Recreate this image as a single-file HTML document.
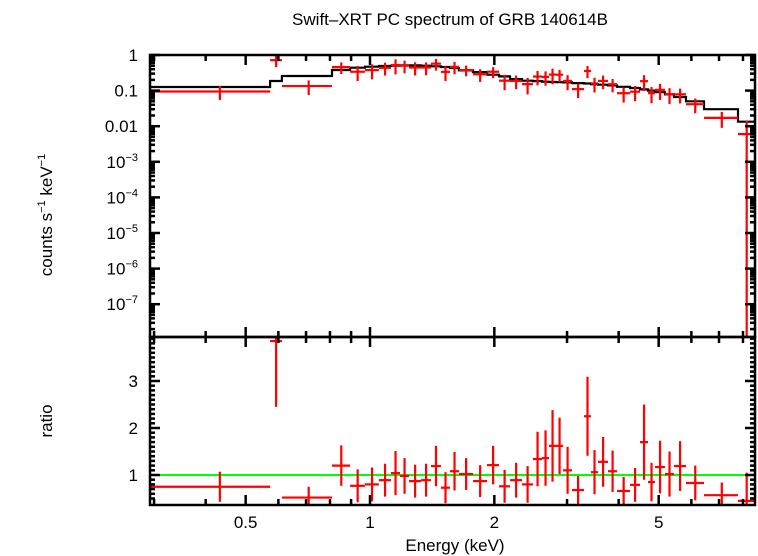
<!DOCTYPE html>
<html><head><meta charset="utf-8"><style>
html,body{margin:0;padding:0;background:#fff}
svg{display:block;font-family:"Liberation Sans",sans-serif}
</style></head><body>
<svg id="chart" width="758" height="556" viewBox="0 0 758 556">
<text x="450" y="25" font-size="17" text-anchor="middle">Swift–XRT PC spectrum of GRB 140614B</text>
<text transform="translate(52,215) rotate(-90)" font-size="17" text-anchor="middle">counts s<tspan font-size="11" dy="-7">−1</tspan><tspan dy="7"> keV</tspan><tspan font-size="11" dy="-7">−1</tspan></text>
<text transform="translate(52,421) rotate(-90)" font-size="17" text-anchor="middle">ratio</text>
<text x="455" y="551" font-size="17" text-anchor="middle">Energy (keV)</text>
<g id="marks"></g>
<g id="axes"></g>
</svg>
<script>
const binEdges=[0.293,0.573,0.612,0.809,0.895,0.972,1.051,1.124,1.182,1.243,1.329,1.405,1.485,1.562,1.642,1.776,1.920,2.053,2.183,2.334,2.481,2.609,2.713,2.821,2.934,3.084,3.297,3.428,3.565,3.770,3.964,4.262,4.506,4.711,4.898,5.179,5.445,5.823,6.439,7.780,8.554];
const modelVals=[0.126,0.186,0.257,0.38,0.44,0.47,0.49,0.5,0.51,0.51,0.5,0.48,0.46,0.43,0.37,0.33,0.28,0.25,0.21,0.19,0.185,0.178,0.174,0.172,0.17,0.162,0.158,0.15,0.146,0.14,0.128,0.118,0.108,0.1,0.09,0.078,0.066,0.05,0.03,0.0134];
const countVals=[0.0945,0.716,0.134,0.456,0.339,0.376,0.436,0.52,0.50,0.444,0.445,0.571,0.336,0.464,0.377,0.287,0.339,0.19,0.187,0.152,0.248,0.242,0.282,0.279,0.187,0.11,0.356,0.159,0.187,0.151,0.0845,0.0932,0.184,0.085,0.105,0.0796,0.0785,0.0415,0.0171,0.0060];
const ratioVals=[0.75,3.85,0.52,1.2,0.77,0.8,0.89,1.04,0.98,0.87,0.89,1.19,0.73,1.08,1.02,0.87,1.21,0.76,0.89,0.8,1.34,1.36,1.62,1.62,1.1,0.68,2.25,1.06,1.28,1.08,0.66,0.79,1.7,0.85,1.17,1.02,1.19,0.83,0.57,0.45];
const ratioErr=[0.32,1.4,0.23,0.43,0.35,0.36,0.35,0.47,0.38,0.35,0.35,0.43,0.33,0.41,0.34,0.34,0.41,0.35,0.37,0.39,0.58,0.59,0.76,0.6,0.5,0.3,0.84,0.47,0.53,0.44,0.3,0.36,0.8,0.41,0.56,0.48,0.53,0.37,0.27,0.6];
const xTickMajor=[0.5,1,2,5];
const xTickLabels=["0.5","1","2","5"];
const yTopDecades=[0,-1,-2,-3,-4,-5,-6,-7];
const yTopLabels=["1","0.1","0.01","10|−3","10|−4","10|−5","10|−6","10|−7"];
const ratioTicks=[1,2,3];

const L=150,R=755,T=55,M=337,B=505;
const xs=e=>370+413*Math.log10(e);
const yTop=v=>T-35.6*Math.log10(v);
const yRat=r=>475-47*(r-1);
const NS="http://www.w3.org/2000/svg";
const marks=document.getElementById('marks'),axes=document.getElementById('axes');
function mk(tag,attrs,parent){const el=document.createElementNS(NS,tag);for(const k in attrs)el.setAttribute(k,attrs[k]);parent.appendChild(el);return el;}
function clampT(y){return Math.max(T,Math.min(M,y));}
function clampB(y){return Math.max(M,Math.min(B,y));}

const g1=mk('line',{x1:L,x2:R,y1:yRat(1),y2:yRat(1),stroke:'#00ff00','stroke-width':2},marks);



let d='';
for(let i=0;i<modelVals.length;i++){
  const x0=xs(binEdges[i]),x1=xs(binEdges[i+1]),y=yTop(modelVals[i]);
  d+=(i===0?'M':'L')+x0.toFixed(1)+','+y.toFixed(1)+'L'+x1.toFixed(1)+','+y.toFixed(1);
}
const mp=mk('path',{d:d,fill:'none',stroke:'#000','stroke-width':2.2},marks);



for(let i=0;i<countVals.length;i++){
  const x0=xs(binEdges[i]),x1=xs(binEdges[i+1]);
  const xc=xs((binEdges[i]+binEdges[i+1])/2);
  const c=countVals[i],ce=ratioErr[i]*modelVals[i];
  const yc=yTop(c),yh=clampT(yTop(c+ce)),yl=(c-ce>0)?clampT(yTop(c-ce)):M;
  const g=mk('g',{stroke:'#ff0000','stroke-width':2.2},marks);
  
  
  mk('line',{x1:x0,x2:x1,y1:yc,y2:yc},g);
  mk('line',{x1:xc,x2:xc,y1:yh,y2:yl},g);
  const r=ratioVals[i],re=ratioErr[i];
  const gr=mk('g',{stroke:'#ff0000','stroke-width':2.2},marks);
  
  
  const yr=yRat(r);
  if(yr>=M&&yr<=B)mk('line',{x1:x0,x2:x1,y1:yr,y2:yr},gr);
  mk('line',{x1:xc,x2:xc,y1:clampB(yRat(r+re)),y2:clampB(yRat(r-re))},gr);
}

const f1=mk('rect',{x:L,y:T,width:R-L,height:M-T,fill:'none',stroke:'#000','stroke-width':2.5},axes);


const f2=mk('rect',{x:L,y:M,width:R-L,height:B-M,fill:'none',stroke:'#000','stroke-width':2.5},axes);



const tk=mk('g',{stroke:'#000','stroke-width':2.5},axes);


for(let e=0.3;e<8.6;e+=(e<0.95?0.1:1)){
  const ee=Math.round(e*10)/10, x=xs(ee);
  if(x<L||x>R)continue;
  const major=xTickMajor.indexOf(ee)>=0,len=major?10:6;
  mk('line',{x1:x,x2:x,y1:T,y2:T+len},tk);
  mk('line',{x1:x,x2:x,y1:M-len,y2:M+len},tk);
  mk('line',{x1:x,x2:x,y1:B-len,y2:B},tk);
}
xTickMajor.forEach((e,i)=>{
  const t=mk('text',{x:xs(e),y:528,'font-size':17,'text-anchor':'middle'},axes);
  t.textContent=xTickLabels[i];
  
  
});
for(let dec=-8;dec<=0;dec++){
  for(let m=1;m<10;m++){
    const y=yTop(m*Math.pow(10,dec));
    if(y<T||y>M)continue;
    const len=m===1?10:5;
    mk('line',{x1:L,x2:L+len,y1:y,y2:y},tk);
    mk('line',{x1:R-len,x2:R,y1:y,y2:y},tk);
  }
}
yTopDecades.forEach((dec,i)=>{
  const y=yTop(Math.pow(10,dec))+6;
  const t=mk('text',{x:138,y:y,'font-size':17,'text-anchor':'end'},axes);
  const parts=yTopLabels[i].split('|');
  if(parts.length===1)t.textContent=parts[0];
  else{t.textContent=parts[0];const s=mk('tspan',{'font-size':11,dy:-7},t);s.textContent=parts[1];}
  
  
});
for(let r=0.5;r<3.95;r+=0.1){
  const rr=Math.round(r*10)/10,y=yRat(rr);
  if(y<M||y>B)continue;
  const major=Math.abs(rr-Math.round(rr))<1e-6,len=major?10:5;
  mk('line',{x1:L,x2:L+len,y1:y,y2:y},tk);
  mk('line',{x1:R-len,x2:R,y1:y,y2:y},tk);
}
ratioTicks.forEach(r=>{
  const t=mk('text',{x:138,y:yRat(r)+6,'font-size':17,'text-anchor':'end'},axes);
  t.textContent=String(r);
  
  
});
</script>
</body></html>
